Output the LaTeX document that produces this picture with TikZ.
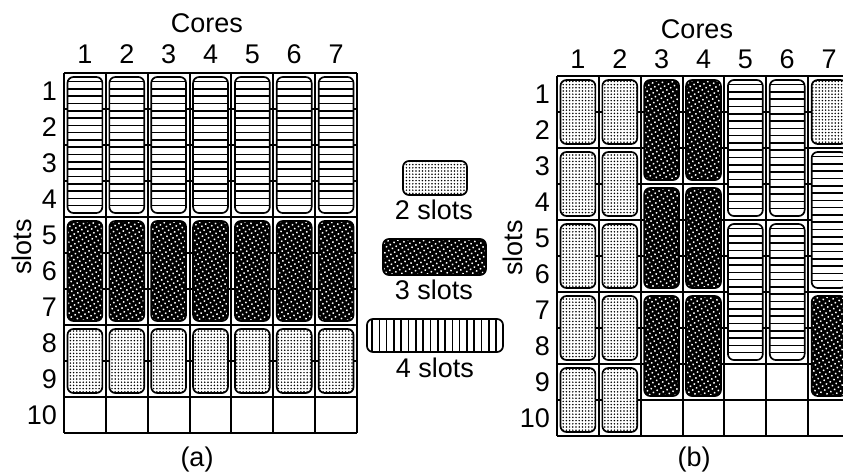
\documentclass[tikz,border=0pt]{standalone}
\usepackage{fontspec}
\setmainfont{Liberation Sans}
\usetikzlibrary{patterns.meta}

% one job: grid origin x, grid origin y, core, first slot, number of slots, style
\newcommand\jobbox[6]{%
  \path[#6] ({#1+(#3-1)*41.86+3.5},{#2+(#4-1)*36+4})
    rectangle ({#1+#3*41.86-3.5},{#2+(#4+#5-1)*36-4});}

\begin{document}
\begin{tikzpicture}[
  x=1pt, y=-1pt,
  font=\fontsize{27}{32}\selectfont,
  lbl/.style={inner sep=0pt},
  cell/.style={draw=black, line width=2pt},
  job/.style={rounded corners=6pt, draw=black, line width=1.7pt},
  twoslot/.style={job, preaction={fill=white},
    pattern={Dots[distance=3.2pt, radius=0.85pt]}},
  threeslot/.style={job, preaction={fill=black},
    pattern={Dots[distance=4.4pt, radius=1.05pt, angle=30]}, pattern color=white},
  fourslot/.style={job, fill=white, path picture={
    \foreach \k in {0,...,19}
      \draw[line width=1.6pt]
        ([yshift={-4.5pt-\k*7.3pt}]path picture bounding box.north west) --
        ([yshift={-4.5pt-\k*7.3pt}]path picture bounding box.north east);}},
  fourslotv/.style={job, fill=white, path picture={
    \foreach \k in {0,...,18}
      \draw[line width=1.6pt]
        ([xshift={5pt+\k*7.3pt}]path picture bounding box.north west) --
        ([xshift={5pt+\k*7.3pt}]path picture bounding box.south west);}}
]
\useasboundingbox (0,0) rectangle (843,475);

% (a): every core gets the same sequence of jobs
\foreach \c in {0,...,7}
  \draw[cell] ({64+\c*41.86},73) -- ({64+\c*41.86},433);
\foreach \r in {0,...,10}
  \draw[cell] (64,{73+\r*36}) -- (357,{73+\r*36});
\foreach \c in {1,...,7} {
  \jobbox{64}{73}{\c}{1}{4}{fourslot}
  \jobbox{64}{73}{\c}{5}{3}{threeslot}
  \jobbox{64}{73}{\c}{8}{2}{twoslot}
}
\node[lbl] (coresA) at (207,23) {Cores};
\foreach \i in {1,...,7}
  \node[lbl] (colA\i) at ({64+(\i-0.5)*41.86},54) {\i};
\foreach \i in {1,...,10}
  \node[lbl, anchor=east] (rowA\i) at (57,{73+(\i-0.5)*36}) {\i};
\node[lbl, rotate=90] (slotsA) at (22,247) {slots};
\node[lbl] (capA) at (197,460) {(a)};

% legend
\path[twoslot] (403,161) rectangle (467,195);
\node[lbl] (legTwo) at (434,210) {2 slots};
\path[threeslot] (383,239) rectangle (486,275);
\node[lbl] (legThree) at (434,290) {3 slots};
\path[fourslotv] (367,319) rectangle (503,352);
\node[lbl] (legFour) at (435,368) {4 slots};

% (b): mixed job sizes, packed per core
\foreach \c in {0,...,7}
  \draw[cell] ({557+\c*41.86},76) -- ({557+\c*41.86},436);
\foreach \r in {0,...,10}
  \draw[cell] (557,{76+\r*36}) -- (850,{76+\r*36});
\foreach \c in {1,2} {
  \jobbox{557}{76}{\c}{1}{2}{twoslot}
  \jobbox{557}{76}{\c}{3}{2}{twoslot}
  \jobbox{557}{76}{\c}{5}{2}{twoslot}
  \jobbox{557}{76}{\c}{7}{2}{twoslot}
  \jobbox{557}{76}{\c}{9}{2}{twoslot}
}
\foreach \c in {3,4} {
  \jobbox{557}{76}{\c}{1}{3}{threeslot}
  \jobbox{557}{76}{\c}{4}{3}{threeslot}
  \jobbox{557}{76}{\c}{7}{3}{threeslot}
}
\foreach \c in {5,6} {
  \jobbox{557}{76}{\c}{1}{4}{fourslot}
  \jobbox{557}{76}{\c}{5}{4}{fourslot}
}
\jobbox{557}{76}{7}{1}{2}{twoslot}
\jobbox{557}{76}{7}{3}{4}{fourslot}
\jobbox{557}{76}{7}{7}{3}{threeslot}
\node[lbl] (coresB) at (697,29) {Cores};
\foreach \i in {1,...,7}
  \node[lbl] (colB\i) at ({557+(\i-0.5)*41.86},59) {\i};
\foreach \i in {1,...,10}
  \node[lbl, anchor=east] (rowB\i) at (550,{76+(\i-0.5)*36}) {\i};
\node[lbl, rotate=90] (slotsB) at (513,248) {slots};
\node[lbl] (capB) at (694,460) {(b)};
\end{tikzpicture}
\end{document}
